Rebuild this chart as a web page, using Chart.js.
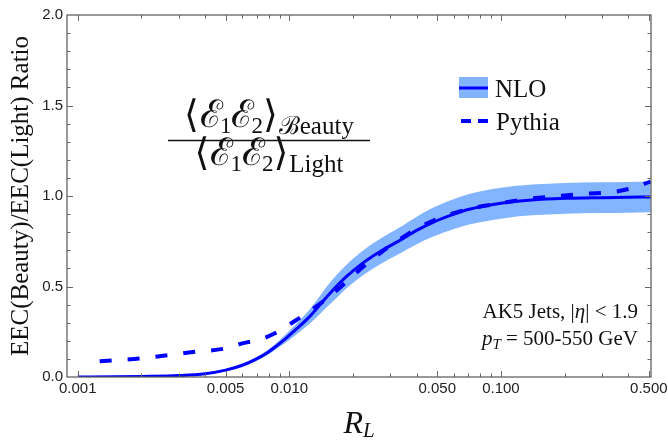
<!DOCTYPE html>
<html>
<head>
<meta charset="utf-8">
<script src="https://cdn.jsdelivr.net/npm/chart.js@4.4.0/dist/chart.umd.min.js"></script>
<style>
  html, body { margin: 0; padding: 0; background: #fff; }
</style>
</head>
<body>
<canvas id="chart" width="668" height="441"></canvas>
<script>
// NLO ratio, centre line and uncertainty band
var nloR    = [0.001, 0.0015, 0.002, 0.003, 0.004, 0.005, 0.006, 0.007, 0.008, 0.009, 0.01, 0.0125, 0.0155, 0.0187, 0.0224, 0.027, 0.033, 0.04, 0.048, 0.06, 0.07, 0.1, 0.14, 0.2, 0.3, 0.4, 0.51];
var nloMid  = [0, 0.001, 0.003, 0.008, 0.018, 0.038, 0.065, 0.1, 0.14, 0.185, 0.23, 0.335, 0.46, 0.557, 0.632, 0.695, 0.752, 0.81, 0.856, 0.9, 0.925, 0.96, 0.978, 0.987, 0.991, 0.993, 0.995];
var nloLow  = [0, 0.001, 0.002, 0.006, 0.014, 0.032, 0.057, 0.089, 0.126, 0.167, 0.205, 0.295, 0.40, 0.492, 0.564, 0.625, 0.68, 0.734, 0.776, 0.817, 0.841, 0.875, 0.893, 0.902, 0.906, 0.908, 0.91];
var nloHigh = [0, 0.001, 0.004, 0.010, 0.022, 0.044, 0.073, 0.111, 0.154, 0.203, 0.255, 0.375, 0.52, 0.622, 0.7, 0.765, 0.824, 0.886, 0.936, 0.983, 1.009, 1.045, 1.063, 1.072, 1.076, 1.078, 1.08];

// Pythia ratio
var pythiaR   = [0.00127, 0.002, 0.0035, 0.005, 0.006, 0.0073, 0.0087, 0.0108, 0.0121, 0.014, 0.0156, 0.0177, 0.0198, 0.0224, 0.025, 0.0294, 0.0329, 0.04, 0.0535, 0.073, 0.1, 0.137, 0.187, 0.254, 0.33, 0.42, 0.51];
var pythiaVal = [0.087, 0.103, 0.138, 0.158, 0.186, 0.208, 0.246, 0.315, 0.354, 0.405, 0.448, 0.503, 0.554, 0.61, 0.655, 0.718, 0.757, 0.82, 0.886, 0.932, 0.96, 0.985, 1.0, 1.013, 1.02, 1.045, 1.08];

var xTickValues = [0.001, 0.005, 0.01, 0.05, 0.1, 0.5];
var xTickLabels = ['0.001', '0.005', '0.010', '0.050', '0.100', '0.500'];
var xMinorTicks = [0.002, 0.003, 0.004, 0.006, 0.007, 0.008, 0.009, 0.02, 0.03, 0.04, 0.06, 0.07, 0.08, 0.09, 0.2, 0.3, 0.4];
var yTickValues = [0, 0.5, 1, 1.5, 2];
var yTickLabels = ['0.0', '0.5', '1.0', '1.5', '2.0'];

var blue = '#0000ff';
var bandColor = 'rgb(130,180,255)';
var serif = "'Liberation Serif', 'DejaVu Serif', serif";
var sans = "'Liberation Sans', Arial, sans-serif";

function pts(xs, ys) {
    var out = [];
    for (var i = 0; i < xs.length; i++) out.push({x: xs[i], y: ys[i]});
    return out;
}

function runsWidth(ctx, runs) {
    var w = 0;
    runs.forEach(function(r) { ctx.font = r.f; w += ctx.measureText(r.t).width + (r.k || 0); });
    return w;
}
function drawRuns(ctx, runs, x, y) {
    runs.forEach(function(r) {
        ctx.font = r.f;
        ctx.fillText(r.t, x, y + (r.dy || 0));
        x += ctx.measureText(r.t).width + (r.k || 0);
    });
}

var decor = {
    id: 'decor',
    afterDraw: function(chart) {
        var ctx = chart.ctx;
        var a = chart.chartArea;
        var xs = chart.scales.x, ys = chart.scales.y;
        ctx.save();

        // frame
        ctx.strokeStyle = '#555';
        ctx.lineWidth = 1.2;
        ctx.strokeRect(a.left, a.top, a.right - a.left, a.bottom - a.top);

        // inward ticks on all sides
        ctx.strokeStyle = '#666';
        ctx.lineWidth = 1;
        function xt(v, len) {
            var p = Math.round(xs.getPixelForValue(v)) + 0.5;
            ctx.beginPath();
            ctx.moveTo(p, a.bottom); ctx.lineTo(p, a.bottom - len);
            ctx.moveTo(p, a.top); ctx.lineTo(p, a.top + len);
            ctx.stroke();
        }
        function yt(v, len) {
            var p = Math.round(ys.getPixelForValue(v)) + 0.5;
            ctx.beginPath();
            ctx.moveTo(a.left, p); ctx.lineTo(a.left + len, p);
            ctx.moveTo(a.right, p); ctx.lineTo(a.right - len, p);
            ctx.stroke();
        }
        xTickValues.forEach(function(v) { xt(v, 6); });
        xMinorTicks.forEach(function(v) { xt(v, 3.5); });
        for (var k = 1; k < 20; k++) {
            if (k % 5 == 0) yt(k / 10, 6); else yt(k / 10, 3.5);
        }

        ctx.fillStyle = '#111';
        ctx.textAlign = 'left';
        ctx.textBaseline = 'alphabetic';

        // y axis title
        ctx.save();
        ctx.translate(28, (a.top + a.bottom) / 2);
        ctx.rotate(-Math.PI / 2);
        ctx.textAlign = 'center';
        ctx.font = '25px ' + serif;
        ctx.fillText('EEC(Beauty)/EEC(Light) Ratio', 0, 0);
        ctx.restore();

        // x axis title R_L
        var xTitle = [
            {t: 'R', f: 'italic 32px ' + serif},
            {t: 'L', f: 'italic 21px ' + serif, dy: 4}
        ];
        drawRuns(ctx, xTitle, (a.left + a.right) / 2 - runsWidth(ctx, xTitle) / 2, 433);

        // ratio formula
        var big = '38px ' + serif, sub = '25px ' + serif, idx = '23px ' + serif;
        function frac(tail) {
            return [
                {t: '\u27E8', f: big, k: 1}, {t: '\u2130', f: big, k: -3}, {t: '1', f: idx, dy: 6},
                {t: '\u2130', f: big, k: -3}, {t: '2', f: idx, dy: 6}, {t: '\u27E9', f: big, k: 1},
                {t: tail, f: sub, dy: 7}
            ];
        }
        var num = frac('\u212Ceauty');
        var den = frac('Light');
        var cx = 269;
        drawRuns(ctx, num, cx - runsWidth(ctx, num) / 2, 127);
        drawRuns(ctx, den, cx - runsWidth(ctx, den) / 2, 165);
        ctx.strokeStyle = '#111';
        ctx.lineWidth = 1.5;
        ctx.beginPath();
        ctx.moveTo(168, 140.5); ctx.lineTo(370, 140.5);
        ctx.stroke();

        // legend
        ctx.fillStyle = bandColor;
        ctx.fillRect(459, 77, 29, 21);
        ctx.strokeStyle = blue;
        ctx.lineWidth = 3;
        ctx.beginPath();
        ctx.moveTo(459, 88); ctx.lineTo(488, 88);
        ctx.stroke();
        ctx.lineWidth = 4;
        ctx.setLineDash([10, 7]);
        ctx.beginPath();
        ctx.moveTo(461, 121); ctx.lineTo(488, 121);
        ctx.stroke();
        ctx.setLineDash([]);
        ctx.fillStyle = '#111';
        ctx.font = '25px ' + serif;
        ctx.fillText('NLO', 495, 97);
        ctx.fillText('Pythia', 496, 130);

        // jet selection text
        var line1 = [{t: 'AK5 Jets, |', f: '21px ' + serif}, {t: '\u03B7', f: 'italic 21px ' + serif},
                     {t: '| < 1.9', f: '21px ' + serif}];
        var line2 = [{t: 'p', f: 'italic 21px ' + serif}, {t: 'T', f: 'italic 15px ' + serif, dy: 4},
                     {t: ' = 500-550 GeV', f: '21px ' + serif}];
        drawRuns(ctx, line1, 638 - runsWidth(ctx, line1), 318);
        drawRuns(ctx, line2, 638 - runsWidth(ctx, line2), 345);

        ctx.restore();
    }
};

var ctx = document.getElementById('chart').getContext('2d');
var chart = new Chart(ctx, {
    type: 'line',
    data: {
        datasets: [
            {
                label: 'Pythia',
                data: pts(pythiaR, pythiaVal),
                borderColor: blue,
                borderWidth: 4,
                borderDash: [12, 16],
                borderCapStyle: 'butt',
                pointRadius: 0,
                fill: false,
                cubicInterpolationMode: 'monotone',
                order: 0
            },
            {
                label: 'NLO',
                data: pts(nloR, nloMid),
                borderColor: blue,
                borderWidth: 3,
                pointRadius: 0,
                fill: false,
                cubicInterpolationMode: 'monotone',
                order: 1
            },
            {
                label: 'NLO low',
                data: pts(nloR, nloLow),
                borderWidth: 0,
                borderColor: bandColor,
                pointRadius: 0,
                fill: false,
                cubicInterpolationMode: 'monotone',
                order: 2
            },
            {
                label: 'NLO high',
                data: pts(nloR, nloHigh),
                borderWidth: 0,
                borderColor: bandColor,
                backgroundColor: bandColor,
                pointRadius: 0,
                fill: '-1',
                cubicInterpolationMode: 'monotone',
                order: 3
            }
        ]
    },
    options: {
        responsive: false,
        animation: false,
        layout: { padding: { left: 0, right: 17, top: 15, bottom: 0 } },
        plugins: { legend: { display: false }, tooltip: { enabled: false } },
        scales: {
            x: {
                type: 'logarithmic',
                min: 0.00089,
                max: 0.512,
                grid: { display: false, drawTicks: false },
                border: { display: false },
                afterBuildTicks: function(scale) {
                    scale.ticks = xTickValues.map(function(v) { return {value: v}; });
                },
                ticks: {
                    autoSkip: false, maxRotation: 0, padding: 3,
                    color: '#222', font: { family: sans, size: 15 },
                    callback: function(v) {
                        var i = xTickValues.indexOf(v);
                        return i >= 0 ? xTickLabels[i] : '';
                    }
                },
                afterFit: function(scale) {
                    scale.height = 64;
                    scale.paddingLeft = 0;
                    scale.paddingRight = 0;
                }
            },
            y: {
                min: 0,
                max: 2,
                grid: { display: false, drawTicks: false },
                border: { display: false },
                afterBuildTicks: function(scale) {
                    scale.ticks = yTickValues.map(function(v) { return {value: v}; });
                },
                ticks: {
                    padding: 4,
                    color: '#222', font: { family: sans, size: 15 },
                    callback: function(v) {
                        var i = yTickValues.indexOf(v);
                        return i >= 0 ? yTickLabels[i] : '';
                    }
                },
                afterFit: function(scale) {
                    scale.width = 67;
                    scale.paddingTop = 0;
                    scale.paddingBottom = 0;
                }
            }
        }
    },
    plugins: [decor]
});
</script>
</body>
</html>
